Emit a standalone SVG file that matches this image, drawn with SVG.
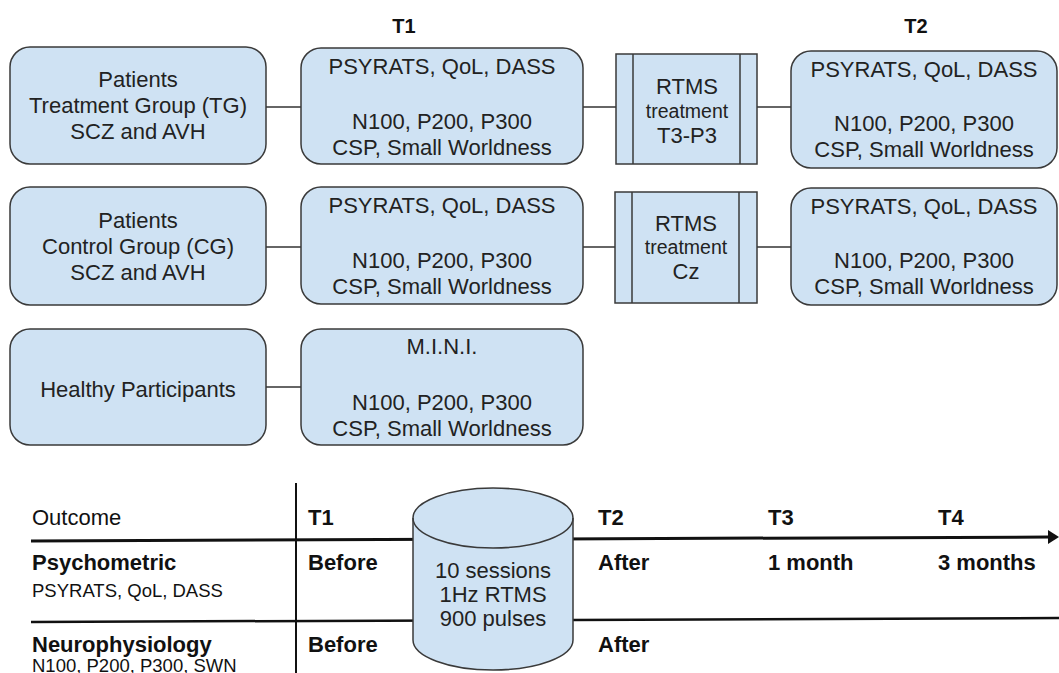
<svg xmlns="http://www.w3.org/2000/svg" width="1059" height="673" viewBox="0 0 1059 673">
  <style>
    .box{fill:#cfe2f3;stroke:#3a3a3a;stroke-width:1.5}
    .inner{fill:none;stroke:#3a3a3a;stroke-width:1.5}
    .t{font-family:"Liberation Sans",Arial,sans-serif;font-size:22px;fill:#222;text-anchor:middle}
    .sm{font-size:19.5px}
    .hd{font-family:"Liberation Sans",Arial,sans-serif;font-weight:bold;font-size:20px;fill:#111;text-anchor:middle}
    .conn{stroke:#333;stroke-width:1.5;fill:none}
    .lbl{font-family:"Liberation Sans",Arial,sans-serif;font-size:22px;fill:#111}
    .b{font-weight:bold}
    .small{font-size:18.5px}
    .rule{stroke:#111;fill:none}
  </style>
  <rect width="1059" height="673" fill="#ffffff"/>

  <!-- timepoint headings -->
  <text class="hd" x="404" y="33">T1</text>
  <text class="hd" x="916" y="33">T2</text>

  <!-- connectors between the study steps -->
  <g id="connectors">
    <line class="conn" x1="266" y1="107" x2="301" y2="107"/>
    <line class="conn" x1="583" y1="107" x2="616" y2="107"/>
    <line class="conn" x1="757" y1="107" x2="791" y2="107"/>
    <line class="conn" x1="266" y1="247" x2="301" y2="247"/>
    <line class="conn" x1="583" y1="247" x2="615" y2="247"/>
    <line class="conn" x1="757" y1="247" x2="791" y2="247"/>
    <line class="conn" x1="266" y1="387" x2="301" y2="387"/>
  </g>

  <!-- row 1: treatment group -->
  <g id="tg-patients">
    <rect class="box" x="10" y="47" width="256" height="117" rx="20"/>
    <text class="t" x="138" y="87">Patients</text>
    <text class="t" x="138" y="113">Treatment Group (TG)</text>
    <text class="t" x="138" y="139">SCZ and AVH</text>
  </g>
  <g id="tg-t1">
    <rect class="box" x="301" y="48" width="282" height="116" rx="20"/>
    <text class="t" x="442" y="74">PSYRATS, QoL, DASS</text>
    <text class="t" x="442" y="129">N100, P200, P300</text>
    <text class="t" x="442" y="155">CSP, Small Worldness</text>
  </g>
  <g id="tg-rtms">
    <rect class="box" x="616" y="54" width="141" height="110"/>
    <line class="inner" x1="633" y1="54" x2="633" y2="164"/>
    <line class="inner" x1="740" y1="54" x2="740" y2="164"/>
    <text class="t" x="687" y="94">RTMS</text>
    <text class="t sm" x="687" y="118">treatment</text>
    <text class="t" x="687" y="143">T3-P3</text>
  </g>
  <g id="tg-t2">
    <rect class="box" x="791" y="51" width="266" height="117" rx="20"/>
    <text class="t" x="924" y="77">PSYRATS, QoL, DASS</text>
    <text class="t" x="924" y="131">N100, P200, P300</text>
    <text class="t" x="924" y="157">CSP, Small Worldness</text>
  </g>

  <!-- row 2: control group -->
  <g id="cg-patients">
    <rect class="box" x="10" y="187" width="256" height="118" rx="20"/>
    <text class="t" x="138" y="228">Patients</text>
    <text class="t" x="138" y="254">Control Group (CG)</text>
    <text class="t" x="138" y="280">SCZ and AVH</text>
  </g>
  <g id="cg-t1">
    <rect class="box" x="301" y="187" width="282" height="117" rx="20"/>
    <text class="t" x="442" y="213">PSYRATS, QoL, DASS</text>
    <text class="t" x="442" y="268">N100, P200, P300</text>
    <text class="t" x="442" y="294">CSP, Small Worldness</text>
  </g>
  <g id="cg-rtms">
    <rect class="box" x="615" y="192" width="142" height="111"/>
    <line class="inner" x1="632" y1="192" x2="632" y2="303"/>
    <line class="inner" x1="739" y1="192" x2="739" y2="303"/>
    <text class="t" x="686" y="231">RTMS</text>
    <text class="t sm" x="686" y="254">treatment</text>
    <text class="t" x="686" y="279">Cz</text>
  </g>
  <g id="cg-t2">
    <rect class="box" x="791" y="188" width="266" height="117" rx="20"/>
    <text class="t" x="924" y="214">PSYRATS, QoL, DASS</text>
    <text class="t" x="924" y="268">N100, P200, P300</text>
    <text class="t" x="924" y="294">CSP, Small Worldness</text>
  </g>

  <!-- row 3: healthy participants -->
  <g id="hc-participants">
    <rect class="box" x="10" y="329" width="256" height="116" rx="20"/>
    <text class="t" x="138" y="397">Healthy Participants</text>
  </g>
  <g id="hc-t1">
    <rect class="box" x="301" y="329" width="282" height="116" rx="20"/>
    <text class="t" x="442" y="354">M.I.N.I.</text>
    <text class="t" x="442" y="410">N100, P200, P300</text>
    <text class="t" x="442" y="436">CSP, Small Worldness</text>
  </g>

  <!-- outcome timeline table -->
  <g id="timeline">
    <line class="rule" x1="296" y1="483" x2="296" y2="673" stroke-width="2"/>
    <line class="rule" x1="31" y1="541" x2="1050" y2="537" stroke-width="3"/>
    <polygon points="1048,530 1059,537 1048,544" fill="#111"/>
    <line class="rule" x1="31" y1="622" x2="1059" y2="618" stroke-width="2.5"/>

    <text class="lbl" x="32" y="525">Outcome</text>
    <text class="lbl b" x="32" y="570">Psychometric</text>
    <text class="lbl small" x="32" y="597">PSYRATS, QoL, DASS</text>
    <text class="lbl b" x="32" y="652">Neurophysiology</text>
    <text class="lbl small" x="32" y="672">N100, P200, P300, SWN</text>

    <text class="lbl b" x="308" y="525">T1</text>
    <text class="lbl b" x="308" y="570">Before</text>
    <text class="lbl b" x="308" y="652">Before</text>

    <text class="lbl b" x="598" y="525">T2</text>
    <text class="lbl b" x="598" y="570">After</text>
    <text class="lbl b" x="598" y="652">After</text>

    <text class="lbl b" x="768" y="525">T3</text>
    <text class="lbl b" x="768" y="570">1 month</text>

    <text class="lbl b" x="938" y="525">T4</text>
    <text class="lbl b" x="938" y="570">3 months</text>
  </g>

  <!-- rTMS session cylinder -->
  <g id="sessions">
    <path class="box" d="M413,518 A80,30 0 0 1 573,518 L573,640 A80,30 0 0 1 413,640 Z"/>
    <path class="inner" d="M413,518 A80,30 0 0 0 573,518"/>
    <text class="t" x="493" y="578">10 sessions</text>
    <text class="t" x="493" y="602">1Hz RTMS</text>
    <text class="t" x="493" y="626">900 pulses</text>
  </g>
</svg>
